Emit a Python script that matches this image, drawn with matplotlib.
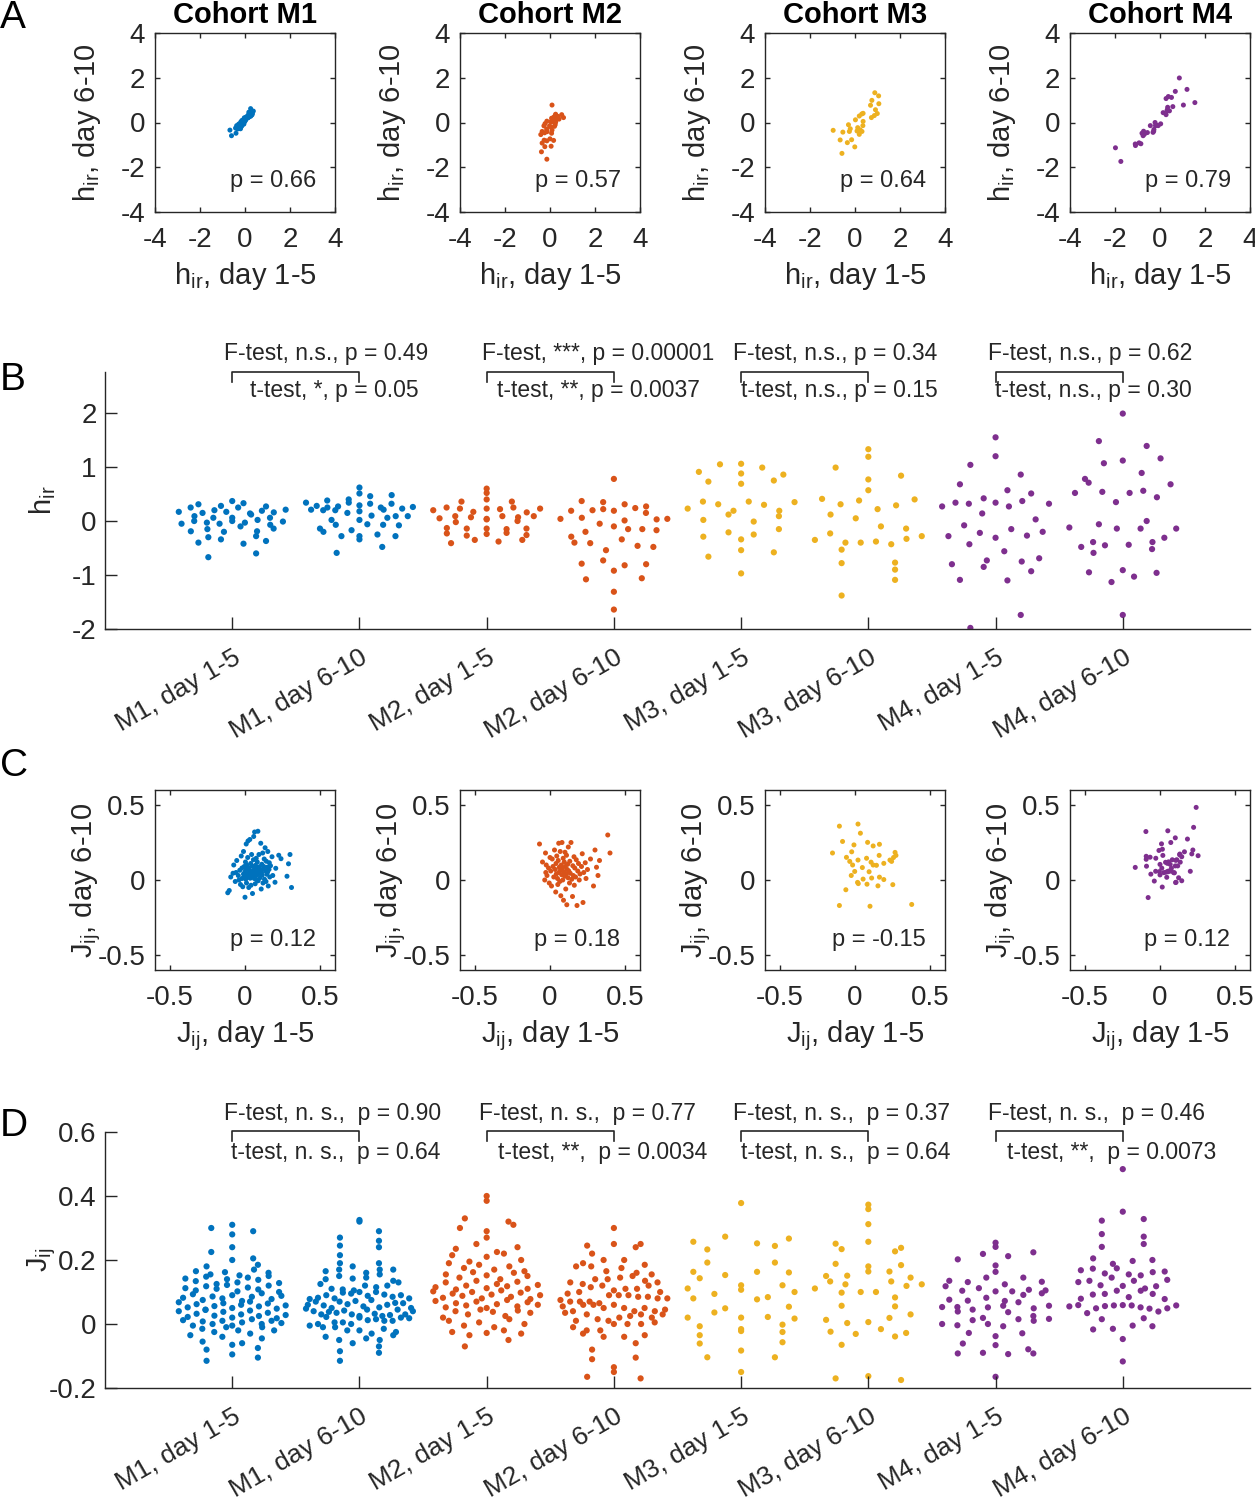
import numpy as np
import matplotlib.pyplot as plt

plt.rcParams['font.family'] = ['Liberation Sans', 'DejaVu Sans']
plt.rcParams['mathtext.default'] = 'regular'
plt.rcParams['axes.unicode_minus'] = False

AX = '#262626'
colors = ['#0072BD', '#D95319', '#EDB120', '#7E2F8E']
cohorts = ['M1', 'M2', 'M3', 'M4']
rho_h = ['0.66', '0.57', '0.64', '0.79']
rho_J = ['0.12', '0.18', '-0.15', '0.12']
group_labels = ['M1, day 1-5', 'M1, day 6-10', 'M2, day 1-5', 'M2, day 6-10',
                'M3, day 1-5', 'M3, day 6-10', 'M4, day 1-5', 'M4, day 6-10']

F_h = ['F-test, n.s., p = 0.49', 'F-test, ***, p = 0.00001',
       'F-test, n.s., p = 0.34', 'F-test, n.s., p = 0.62']
t_h = ['t-test, *, p = 0.05', 't-test, **, p = 0.0037',
       't-test, n.s., p = 0.15', 't-test, n.s., p = 0.30']
F_J = ['F-test, n. s.,  p = 0.90', 'F-test, n. s.,  p = 0.77',
       'F-test, n. s.,  p = 0.37', 'F-test, n. s.,  p = 0.46']
t_J = ['t-test, n. s.,  p = 0.64', 't-test, **,  p = 0.0034',
       't-test, n. s.,  p = 0.64', 't-test, **,  p = 0.0073']

# h_ir per neuron, paired day 1-5 / day 6-10
h_m1_d15 = [-0.67, -0.60, -0.42, -0.40, -0.37, -0.34, -0.30, -0.28, -0.20, -0.19, -0.19, -0.15, -0.14, -0.10, -0.07,
            -0.05, -0.05, -0.03, -0.03, -0.01, 0.00, 0.00, 0.02, 0.06, 0.06, 0.06, 0.09, 0.12, 0.14, 0.15, 0.16, 0.17,
            0.17, 0.19, 0.20, 0.21, 0.25, 0.25, 0.27, 0.28, 0.31, 0.33, 0.37]
h_m1_d610 = [-0.34, -0.59, -0.25, -0.48, -0.14, -0.28, -0.28, -0.07, -0.28, 0.02, -0.20, -0.17, 0.09, -0.08, -0.06,
             -0.07, 0.15, 0.02, 0.21, 0.06, 0.10, 0.20, 0.09, 0.25, 0.18, 0.23, 0.20, 0.29, 0.21, 0.34, 0.25, 0.27,
             0.46, 0.26, 0.32, 0.38, 0.28, 0.62, 0.32, 0.48, 0.34, 0.40, 0.51]
h_m2_d15 = [-0.41, -0.38, -0.35, -0.35, -0.27, -0.26, -0.24, -0.23, -0.22, -0.15, -0.14, -0.14, -0.14, -0.13, -0.02,
            0.00, 0.03, 0.04, 0.05, 0.07, 0.07, 0.09, 0.09, 0.09, 0.16, 0.17, 0.20, 0.22, 0.23, 0.23, 0.23, 0.25,
            0.25, 0.36, 0.36, 0.40, 0.52, 0.60]
h_m2_d610 = [-0.54, -1.31, -0.40, -0.92, -0.15, -0.79, -0.46, -1.08, -0.05, -0.29, -0.82, 0.06, -1.64, -0.41, -0.15,
             -0.73, 0.03, -0.20, -1.06, 0.19, -0.48, 0.78, -0.34, 0.04, -0.80, 0.24, -0.17, 0.20, -0.10, 0.31, 0.04,
             0.37, 0.01, 0.19, 0.27, 0.15, 0.35, 0.22]
h_m3_d15 = [-0.97, -0.66, -0.58, -0.54, -0.34, -0.29, -0.25, -0.21, -0.15, -0.01, 0.02, 0.09, 0.12, 0.19, 0.19,
            0.23, 0.30, 0.31, 0.35, 0.36, 0.36, 0.69, 0.73, 0.75, 0.86, 0.88, 0.91, 0.99, 1.05, 1.06]
h_m3_d610 = [-0.35, -0.78, -1.38, -0.43, -0.90, -0.10, -0.40, -0.28, -0.77, -1.09, 0.12, -0.38, -0.23, -0.53, 0.29,
             -0.33, 0.38, -0.40, -0.14, 0.41, 0.05, 0.77, 0.22, 0.99, 0.31, 1.33, 0.57, 0.40, 1.19, 0.84]
h_m4_d15 = [-1.98, -1.74, -1.10, -1.09, -0.93, -0.85, -0.80, -0.75, -0.73, -0.69, -0.56, -0.43, -0.31, -0.28, -0.27,
            -0.22, -0.20, -0.15, -0.08, 0.03, 0.14, 0.27, 0.27, 0.32, 0.32, 0.34, 0.34, 0.37, 0.42, 0.51, 0.57, 0.68,
            0.86, 1.04, 1.20, 1.55]
h_m4_d610 = [-1.13, -1.74, -0.96, -1.03, -0.91, -0.95, -0.48, -0.59, -0.39, -0.52, -0.45, -0.14, -0.44, -0.39, -0.31,
             0.00, -0.14, -0.12, -0.14, -0.06, 0.44, 0.35, 1.07, 0.52, 0.56, 0.54, 0.68, 1.16, 0.52, 1.12, 0.71, 1.39,
             1.99, 0.78, 1.48, 0.89]

# J_ij per pair, paired day 1-5 / day 6-10
J_m1_d15 = [-0.115, -0.105, -0.095, -0.08, -0.075, -0.065, -0.06, -0.055, -0.045, -0.04,
            -0.035, -0.03, -0.025, -0.02, -0.02, -0.015, -0.01, -0.01, -0.005, -0.005,
            0.0, 0.0, 0.003, 0.005, 0.008, 0.01, 0.01, 0.012, 0.015, 0.018,
            0.02, 0.022, 0.025, 0.026, 0.028, 0.03, 0.032, 0.035, 0.038, 0.04,
            0.042, 0.044, 0.045, 0.048, 0.05, 0.052, 0.055, 0.056, 0.058, 0.06,
            0.062, 0.064, 0.065, 0.068, 0.07, 0.072, 0.075, 0.078, 0.08, 0.082,
            0.085, 0.086, 0.088, 0.09, 0.093, 0.096, 0.1, 0.102, 0.105, 0.108,
            0.11, 0.112, 0.114, 0.118, 0.12, 0.122, 0.125, 0.128, 0.13, 0.134,
            0.138, 0.14, 0.142, 0.145, 0.148, 0.15, 0.152, 0.155, 0.16, 0.162,
            0.165, 0.17, 0.18, 0.185, 0.2, 0.205, 0.225, 0.24, 0.28, 0.29, 0.30, 0.31]
J_m1_d610 = [-0.085, -0.07, 0.02, 0.045, 0.1, -0.01, 0.05, 0.13, 0.03, 0.0,
             0.065, -0.03, 0.16, 0.01, 0.08, -0.045, 0.04, 0.19, 0.025, 0.09,
             -0.115, 0.055, 0.12, 0.005, 0.24, 0.07, -0.02, 0.1, 0.035, 0.15,
             0.26, 0.04, -0.05, 0.082, 0.018, 0.06, 0.27, 0.012, 0.11, -0.035,
             0.045, 0.17, 0.03, 0.092, -0.09, 0.062, 0.022, 0.135, 0.29, 0.05,
             0.01, 0.32, 0.075, -0.025, 0.098, 0.028, 0.145, 0.058, 0.0, 0.12,
             0.08, 0.325, -0.005, 0.042, 0.17, 0.088, 0.015, 0.066, 0.245, -0.06,
             0.048, 0.105, 0.032, 0.18, -0.02, 0.072, 0.09, 0.14, 0.005, 0.215,
             0.06, -0.01, 0.125, 0.038, 0.085, 0.052, 0.19, -0.04, 0.07, 0.115,
             0.02, 0.095, 0.155, 0.03, -0.015, 0.078, 0.165, 0.142, 0.025, 0.108, 0.17, -0.05]
J_m2_d15 = [-0.07, -0.05, -0.035, -0.03, -0.028, -0.025, -0.02, -0.01, -0.005, 0.0,
            0.005, 0.01, 0.015, 0.02, 0.025, 0.03, 0.035, 0.038, 0.04, 0.042,
            0.045, 0.05, 0.052, 0.055, 0.058, 0.06, 0.062, 0.065, 0.068, 0.07,
            0.072, 0.075, 0.078, 0.08, 0.082, 0.085, 0.088, 0.09, 0.092, 0.095,
            0.098, 0.1, 0.102, 0.105, 0.108, 0.11, 0.112, 0.115, 0.118, 0.12,
            0.122, 0.125, 0.13, 0.132, 0.135, 0.14, 0.145, 0.15, 0.152, 0.155,
            0.16, 0.162, 0.165, 0.17, 0.175, 0.18, 0.185, 0.19, 0.195, 0.2,
            0.21, 0.215, 0.22, 0.225, 0.235, 0.24, 0.25, 0.27, 0.29, 0.3,
            0.31, 0.32, 0.33, 0.385, 0.40]
J_m2_d610 = [0.24, 0.12, 0.0, 0.18, 0.05, 0.1, 0.03, 0.08, -0.02, 0.15,
             0.06, -0.04, 0.14, 0.09, 0.02, 0.2, 0.07, -0.08, 0.11, 0.04,
             0.16, 0.01, -0.03, 0.13, 0.245, 0.05, 0.085, -0.01, 0.19, 0.065,
             -0.105, 0.1, 0.035, 0.25, 0.075, 0.0, 0.145, -0.135, 0.055, 0.12,
             0.025, 0.185, 0.09, -0.06, 0.04, 0.165, -0.165, 0.07, 0.105, 0.015,
             0.22, 0.06, -0.02, 0.125, 0.045, 0.25, 0.005, -0.11, 0.095, 0.03,
             0.155, -0.035, 0.08, 0.02, 0.135, -0.17, 0.06, 0.11, 0.0, 0.04,
             0.09, 0.175, -0.15, 0.05, 0.115, 0.01, 0.07, 0.14, -0.04, 0.2,
             0.085, 0.03, 0.13, 0.3, 0.18]
J_m3_d15 = [-0.150, -0.104, -0.104, -0.083, -0.061, -0.057, -0.035, -0.025, -0.022, -0.016,
            -0.007, -0.002, 0.017, 0.02, 0.02, 0.022, 0.036, 0.049, 0.054, 0.077,
            0.08, 0.084, 0.094, 0.10, 0.107, 0.111, 0.121, 0.121, 0.143, 0.153,
            0.161, 0.163, 0.163, 0.192, 0.192, 0.233, 0.244, 0.252, 0.257, 0.267,
            0.273, 0.378]
J_m3_d610 = [0.18, 0.359, -0.17, 0.257, -0.065, 0.151, 0.124, 0.03, 0.188, 0.10,
             0.234, 0.057, -0.016, 0.373, 0.133, -0.024, 0.312, 0.083, 0.006, 0.145,
             -0.028, 0.251, 0.055, -0.175, 0.119, 0.013, 0.227, 0.10, 0.098, -0.039,
             0.164, 0.238, 0.019, 0.111, 0.003, 0.133, 0.124, -0.031, 0.15, 0.184,
             0.164, -0.163]
J_m4_d15 = [0.057, 0.057, 0.073, 0.096, 0.037, 0.102, 0.135, 0.145, 0.145, -0.004,
            -0.029, 0.104, 0.105, 0.132, 0.053, 0.01, 0.049, 0.124, 0.219, -0.038,
            0.0, 0.0, -0.061, -0.079, 0.183, -0.094, 0.052, 0.102, 0.015, 0.072,
            0.241, 0.224, 0.254, 0.212, 0.202, 0.163, 0.012, 0.053, 0.131, -0.066,
            0.068, -0.028, 0.118, 0.076, 0.107, 0.039, 0.045, 0.025, 0.091, 0.016,
            -0.092, -0.092, -0.165, 0.112, 0.082, -0.09, 0.019, -0.007]
J_m4_d610 = [0.059, 0.121, 0.059, 0.048, 0.118, 0.094, 0.119, -0.005, 0.155, 0.056,
             0.058, -0.017, 0.131, 0.173, 0.058, 0.241, 0.111, 0.015, 0.20, -0.007,
             0.104, 0.034, 0.039, -0.117, 0.273, 0.323, 0.328, 0.281, -0.047, 0.25,
             0.484, 0.351, 0.162, 0.174, 0.058, 0.188, 0.079, 0.055, 0.168, 0.152,
             0.104, 0.145, 0.094, 0.078, -0.015, 0.052, 0.018, 0.049, 0.049, 0.205,
             0.138, 0.158, 0.084, 0.135, 0.135, 0.092, 0.164, 0.197]

h_pairs = [(h_m1_d15, h_m1_d610), (h_m2_d15, h_m2_d610), (h_m3_d15, h_m3_d610), (h_m4_d15, h_m4_d610)]
J_pairs = [(J_m1_d15, J_m1_d610), (J_m2_d15, J_m2_d610), (J_m3_d15, J_m3_d610), (J_m4_d15, J_m4_d610)]

# bracket text centres, relative to the first group of each cohort
F_h_off = [0.74, 0.88, 0.74, 0.74]
t_h_off = [0.80, 0.88, 0.77, 0.77]
F_J_off = [0.79, 0.79, 0.79, 0.79]
t_J_off = [0.81, 0.91, 0.82, 0.91]

W, H = 1255, 1500
fig = plt.figure(figsize=(W / 100, H / 100), dpi=100)


def px_axes(left, top, right, bottom):
    return fig.add_axes([left / W, 1 - bottom / H, (right - left) / W, (bottom - top) / H])


def style(ax, length):
    for s in ax.spines.values():
        s.set_color(AX)
        s.set_linewidth(1.0)
    ax.tick_params(direction='in', length=length, width=1.0, color=AX, labelcolor=AX, labelsize=20)


def spread_offsets(vals, nbins, maxw=0.42):
    # plotSpread-like: points in each value bin are spread sideways, wider where the bin is fuller
    vals = np.asarray(vals)
    binw = (vals.max() - vals.min()) / nbins
    bins = np.floor((vals - vals.min()) / binw).astype(int)
    ub, cnt = np.unique(bins, return_counts=True)
    nmax = cnt.max()
    off = np.zeros(len(vals))
    for b, n in zip(ub, cnt):
        if n < 2:
            continue
        idx = np.where(bins == b)[0]
        hw = maxw * np.sqrt(n / nmax)
        slots = np.linspace(-hw, hw, n)
        keys = (np.arange(n) * 0.618034 + b * 0.37) % 1
        off[idx] = slots[np.argsort(np.argsort(keys))]
    return off


lefts = [155, 460, 765, 1070]


def scatter_panel(ax, x, y, color, lim, ticks, tlabels, rho, tx, ty, lab):
    ax.scatter(x, y, s=13, color=color, edgecolors='none')
    ax.set_xlim(-lim, lim)
    ax.set_ylim(-lim, lim)
    ax.set_xticks(ticks, tlabels)
    ax.set_yticks(ticks, tlabels)
    style(ax, 3.5)
    ax.tick_params(top=True, right=True)
    ax.tick_params(axis='x', pad=11)
    ax.tick_params(axis='y', pad=7)
    ax.text(tx, ty, 'p = ' + rho, ha='right', va='center', fontsize=17, color=AX)
    ax.set_xlabel(lab + ', day 1-5', fontsize=21, color=AX)
    ax.set_ylabel(lab + ', day 6-10', fontsize=21, color=AX)
    ax.xaxis.set_label_coords(0.5, -0.27)
    ax.yaxis.set_label_coords(-0.29, 0.5)


# ---- A: h_ir scatter
for k in range(4):
    ax = px_axes(lefts[k], 33, lefts[k] + 180, 212)
    x, y = h_pairs[k]
    scatter_panel(ax, x, y, colors[k], 4, [-4, -2, 0, 2, 4], ['-4', '-2', '0', '2', '4'],
                  rho_h[k], 3.15, -2.6, '$h_{ir}$')
    ax.set_title('Cohort ' + cohorts[k], fontsize=21, fontweight='bold', pad=7)

# ---- C: J_ij scatter
for k in range(4):
    ax = px_axes(lefts[k], 790, lefts[k] + 180, 970)
    x, y = J_pairs[k]
    scatter_panel(ax, x, y, colors[k], 0.6, [-0.5, 0, 0.5], ['-0.5', '0', '0.5'],
                  rho_J[k], 0.47, -0.4, '$J_{ij}$')


# ---- B and D: spread plots
def strip_panel(ax, pairs, nbins, Ftxt, ttxt, Foff, toff, ytop, ydrop, yF, yt):
    groups = [g for p in pairs for g in p]
    for i, vals in enumerate(groups):
        xs = i + 1 + spread_offsets(vals, nbins)
        ax.scatter(xs, vals, s=20, color=colors[i // 2], edgecolors='none')
    for k in range(4):
        x1, x2 = 2 * k + 1, 2 * k + 2
        ax.plot([x1, x1, x2, x2], [ydrop, ytop, ytop, ydrop], color=AX, lw=1.2, clip_on=False)
        ax.text(x1 + Foff[k], yF, Ftxt[k], ha='center', va='center', fontsize=16.5, color=AX)
        ax.text(x1 + toff[k], yt, ttxt[k], ha='center', va='center', fontsize=16.5, color=AX)
    ax.set_xlim(0, 9)
    ax.set_xticks(range(1, 9), group_labels, rotation=30, ha='right', rotation_mode='anchor')
    ax.spines['top'].set_visible(False)
    ax.spines['right'].set_visible(False)
    style(ax, 8.5)
    ax.tick_params(axis='x', pad=12, labelsize=19)
    ax.tick_params(axis='y', pad=6)


axB = px_axes(105, 372, 1250, 629)
strip_panel(axB, h_pairs, 9, F_h, t_h, F_h_off, t_h_off, 2.76, 2.57, 3.11, 2.41)
axB.set_ylim(-2, 2.76)
axB.set_yticks([-2, -1, 0, 1, 2], ['-2', '-1', '0', '1', '2'])
axB.set_ylabel('$h_{ir}$', fontsize=21, color=AX)
axB.yaxis.set_label_coords(-0.041, 0.5)

axD = px_axes(105, 1132, 1250, 1388)
strip_panel(axD, J_pairs, 16, F_J, t_J, F_J_off, t_J_off, 0.603, 0.573, 0.659, 0.537)
axD.set_ylim(-0.2, 0.6)
axD.set_yticks([-0.2, 0, 0.2, 0.4, 0.6], ['-0.2', '0', '0.2', '0.4', '0.6'])
axD.set_ylabel('$J_{ij}$', fontsize=21, color=AX)
axD.yaxis.set_label_coords(-0.041, 0.5)

# panel letters
for letter, ytop in zip('ABCD', [0, 362, 748, 1108]):
    fig.text(0.0, 1 - ytop / H, letter, fontsize=28, va='top', ha='left', color='black')

fig.savefig('out.png', dpi=100)
